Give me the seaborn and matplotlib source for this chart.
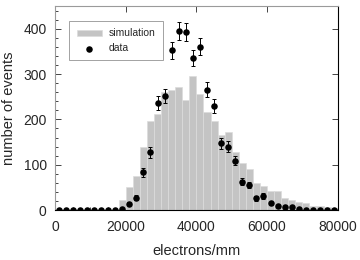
import numpy as np
import pandas as pd
import seaborn as sns
import matplotlib
matplotlib.use("Agg")
import matplotlib.pyplot as plt
from matplotlib.ticker import MultipleLocator

# bin centres (electrons/mm), 2000 wide bins
centres = np.arange(1000, 80000, 2000)

# simulated histogram
simulation = [0, 0, 0, 0, 0, 0, 0, 0, 0, 22,
              50, 75, 140, 197, 211, 260, 265, 271, 242, 295,
              256, 216, 197, 166, 172, 129, 103, 91, 59, 52,
              42, 42, 27, 22, 18, 16, 10, 9, 6, 4]

# measured counts and their error bars
data = [0, 0, 0, 0, 0, 0, 0, 0, 0, 2,
        14, 27, 83, 127, 236, 251, 352, 394, 393, 335,
        360, 265, 230, 147, 140, 109, 63, 55, 26, 31,
        15, 9, 7, 6, 2, 1, 1, 1, 1, 1]
data_err = [0, 0, 0, 0, 0, 0, 0, 0, 0, 1.4,
            3.7, 5.2, 9.1, 11.3, 15.4, 15.8, 18.8, 19.8, 19.8, 18.3,
            19.0, 16.3, 15.2, 12.1, 11.8, 10.4, 7.9, 7.4, 5.1, 5.6,
            3.9, 3.0, 2.6, 2.4, 1.4, 1.0, 1.0, 1.0, 1.0, 1.0]

df = pd.DataFrame({"x": centres, "sim": simulation, "data": data, "err": data_err})

sns.set_style("ticks")
plt.rcParams["font.family"] = ["Liberation Sans", "DejaVu Sans"]

fig = plt.figure(figsize=(3.6, 2.6), dpi=100)
ax = fig.add_axes([0.153, 0.192, 0.785, 0.785])

# simulation as a weighted histogram
sns.histplot(data=df, x="x", weights="sim", binwidth=2000, binrange=(0, 80000),
             ax=ax, color="#c4c4c4", alpha=1, edgecolor="#dcdcdc", linewidth=0.5,
             label="simulation")

# data points with error bars
ax.errorbar(df["x"], df["data"], yerr=df["err"], fmt="none",
            ecolor="black", elinewidth=0.7, capsize=1.5, capthick=0.7, zorder=3)
sns.scatterplot(data=df, x="x", y="data", ax=ax, color="black", s=22,
                edgecolor="black", linewidth=0, zorder=4, label="data")

ax.set_xlim(0, 80000)
ax.set_ylim(0, 450)
ax.set_xlabel("electrons/mm", fontsize=10.5, labelpad=7)
ax.set_ylabel("number of events", fontsize=10.5, labelpad=5)

ax.xaxis.set_major_locator(MultipleLocator(20000))
ax.xaxis.set_minor_locator(MultipleLocator(5000))
ax.yaxis.set_major_locator(MultipleLocator(100))
ax.yaxis.set_minor_locator(MultipleLocator(20))
ax.tick_params(which="both", direction="in", labelsize=10, width=0.6)
ax.tick_params(which="major", length=4, pad=7)
ax.tick_params(which="minor", length=2)
ax.tick_params(axis="y", which="major", pad=6)
ax.tick_params(axis="both", which="major", top=True, right=True)

for side in ["left", "top"]:
    ax.spines[side].set_color("#9a9a9a")
    ax.spines[side].set_linewidth(0.8)
for side in ["right", "bottom"]:
    ax.spines[side].set_color("black")
    ax.spines[side].set_linewidth(0.8)

handles, labels = ax.get_legend_handles_labels()
order = [labels.index("simulation"), labels.index("data")]
leg = ax.legend([handles[i] for i in order], [labels[i] for i in order],
                loc="upper left", bbox_to_anchor=(0.05, 0.926), borderaxespad=0,
                fontsize=7.5, frameon=True, fancybox=False, edgecolor="#777777",
                handlelength=2.4, handleheight=0.5, borderpad=0.7,
                labelspacing=0.45, handletextpad=0.7)
leg.get_frame().set_linewidth(0.6)

fig.savefig("out.png", dpi=100)
